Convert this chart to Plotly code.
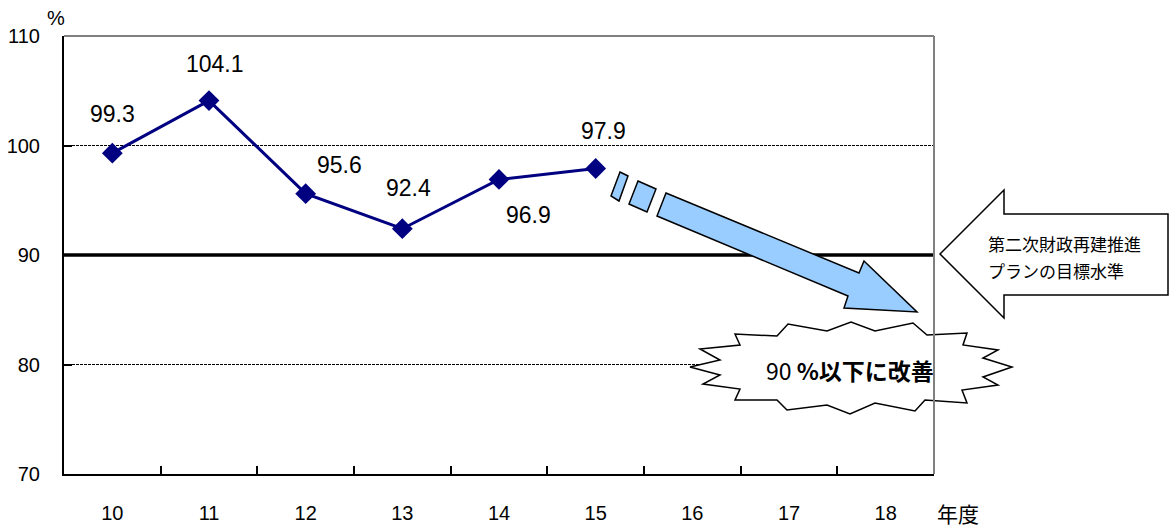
import plotly.graph_objects as go

# Fiscal years (年度) shown on the category axis
years = ["10", "11", "12", "13", "14", "15", "16", "17", "18"]
# Years with actual results and their ratio (%)
ratio_years = ["10", "11", "12", "13", "14", "15"]
ratio = [99.3, 104.1, 95.6, 92.4, 96.9, 97.9]
# Target level of the second fiscal reconstruction plan (%)
target = 90
y_ticks = [70, 80, 90, 100, 110]
dashed_grid = [80, 100]

# Label offsets (px) for the value labels: (dx, dy), dy positive = up
label_offsets = [(0, 39), (6, 37), (34, 29), (6, 41), (29, -36), (8, 38)]

W, H = 1169, 530
L, R, T, B = 64, 235, 36, 56
PW, PH = W - L - R, H - T - B

NUM_FONT = "Liberation Sans, Arial, sans-serif"
JP_FONT = "Noto Sans CJK JP, Liberation Sans, sans-serif"


def to_paper(x, y):
    """Convert page pixel position to paper coordinates of the plot area."""
    return (x - L) / PW, (T + PH - y) / PH


def path(points):
    pts = [to_paper(x, y) for x, y in points]
    return "M " + " L ".join(f"{a:.5f},{b:.5f}" for a, b in pts) + " Z"


def paper_text(x, y, text, font, xanchor="center", size=20):
    px_, py_ = to_paper(x, y)
    return dict(x=px_, y=py_, xref="paper", yref="paper", text=text, showarrow=False,
                xanchor=xanchor, yanchor="middle",
                font=dict(family=font, size=size, color="black"))


fig = go.Figure()

fig.add_trace(go.Scatter(
    x=ratio_years, y=ratio,
    mode="lines+markers",
    line=dict(color="#000080", width=3),
    marker=dict(symbol="diamond", size=16, color="#000080"),
    hoverinfo="x+y",
    showlegend=False,
))

shapes = []
# dashed gridlines
for g in dashed_grid:
    shapes.append(dict(type="line", xref="paper", yref="y", x0=0, x1=1, y0=g, y1=g,
                       line=dict(color="black", width=1, dash="3px,1px"), layer="below"))
# target level line
shapes.append(dict(type="line", xref="paper", yref="y", x0=0, x1=1, y0=target, y1=target,
                   line=dict(color="black", width=3.5), layer="below"))
# top border of the plot area
shapes.append(dict(type="line", xref="paper", yref="paper", x0=0, x1=1, y0=1, y1=1,
                   line=dict(color="#808080", width=2), layer="below"))

arrow_style = dict(type="path", xref="paper", yref="paper", fillcolor="#99CCFF",
                   line=dict(color="black", width=1.5), layer="above")
# broken-start arrow pointing to the improvement goal
shapes.append(dict(arrow_style, path=path([(620, 172), (628, 176), (619, 201), (611, 196)])))
shapes.append(dict(arrow_style, path=path([(638, 181), (656, 189), (647, 212), (629, 204)])))
shapes.append(dict(arrow_style, path=path([(666, 193), (859, 273), (864, 261), (917, 312),
                                           (844, 308), (848, 296), (657, 216)])))

# starburst callout
burst = [(690, 367), (720, 360), (700, 349), (740, 345), (735, 334), (777, 336), (788, 324),
         (827, 331), (851, 322), (875, 331), (913, 323), (927, 335), (967, 333), (963, 345),
         (998, 350), (983, 358), (1012, 367), (983, 377), (998, 385), (962, 390), (967, 403),
         (925, 400), (915, 411), (875, 403), (850, 414), (827, 405), (787, 410), (777, 400),
         (735, 400), (740, 389), (703, 384), (720, 375)]
shapes.append(dict(type="path", xref="paper", yref="paper", path=path(burst),
                   fillcolor="white", line=dict(color="black", width=1.5), layer="above"))

# left-pointing callout arrow for the plan's target level
shapes.append(dict(type="path", xref="paper", yref="paper",
                   path=path([(940, 254), (1004, 190), (1004, 214), (1168, 214),
                              (1168, 295), (1004, 295), (1004, 318)]),
                   fillcolor="white", line=dict(color="black", width=1.5), layer="above"))

# right border of the plot area
shapes.append(dict(type="line", xref="paper", yref="paper", x0=1, x1=1, y0=0, y1=1,
                   line=dict(color="#808080", width=2), layer="above"))

annotations = []
for yr, v, (dx, dy) in zip(ratio_years, ratio, label_offsets):
    annotations.append(dict(x=years.index(yr), y=v, xref="x", yref="y", text=f"{v:.1f}",
                            showarrow=False, xshift=dx, yshift=dy,
                            xanchor="center", yanchor="middle",
                            font=dict(family=NUM_FONT, size=23, color="black")))

annotations.append(paper_text(56, 18, "%", NUM_FONT, size=20))
annotations.append(paper_text(958, 513, "年度", JP_FONT, size=21))
annotations.append(paper_text(986, 243, "第二次財政再建推進", JP_FONT, xanchor="left", size=17))
annotations.append(paper_text(986, 270, "プランの目標水準", JP_FONT, xanchor="left", size=17))
annotations.append(paper_text(850, 370, "90 <b>%以下に改善</b>", JP_FONT, size=23))

fig.update_layout(
    width=W, height=H,
    margin=dict(l=L, r=R, t=T, b=B, pad=0, autoexpand=False),
    paper_bgcolor="white", plot_bgcolor="white",
    shapes=shapes, annotations=annotations,
    xaxis=dict(type="category", categoryorder="array", categoryarray=years,
               tickvals=years, range=[-0.5, len(years) - 0.5], automargin=False,
               tickson="boundaries", ticks="inside", ticklen=8, tickwidth=1.5,
               tickcolor="black", showline=True, linecolor="black", linewidth=2,
               showgrid=False, zeroline=False, ticklabelstandoff=20,
               tickfont=dict(family=NUM_FONT, size=20, color="black"), fixedrange=True),
    yaxis=dict(range=[70, 110], tickvals=y_ticks, ticks="inside", ticklen=8, tickwidth=1.5,
               automargin=False,
               tickcolor="black", showline=True, linecolor="black", linewidth=2,
               showgrid=False, zeroline=False, ticklabelstandoff=18,
               tickfont=dict(family=NUM_FONT, size=20, color="black"), fixedrange=True),
)

fig.write_html("out.html")
